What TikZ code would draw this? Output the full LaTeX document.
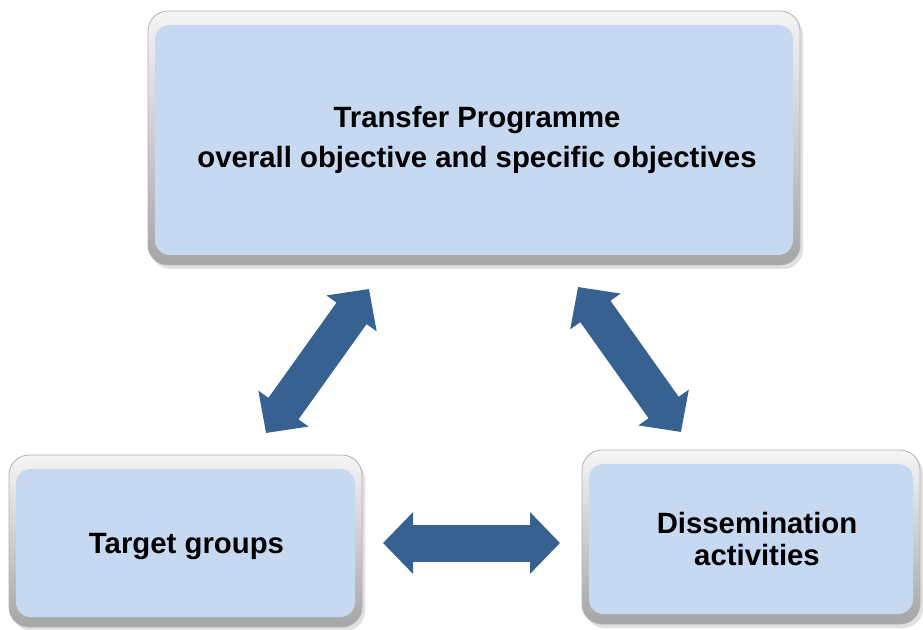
\documentclass[tikz,border=0pt]{standalone}
\usepackage{fontspec}
\setmainfont{Liberation Sans}
\usetikzlibrary{arrows.meta}
\definecolor{boxblue}{RGB}{198,217,241}
\definecolor{arrowblue}{RGB}{54,97,145}
\tikzset{
  px/.style={x=0.75pt,y=-0.75pt},
  boxshadow/.style={fill=black,opacity=0.12,rounded corners=15pt},
  boxouter/.style={top color=white!92!gray,bottom color=gray!70,draw=gray!60,line width=0.6pt,rounded corners=15pt},
  boxinner/.style={fill=boxblue,rounded corners=11pt},
  boxtext/.style={font=\bfseries\fontsize{22}{30}\selectfont,align=center,text=black},
  fatarrow/.style={draw=arrowblue,line width=27.75pt,
     arrows={Triangle[length=22.5pt 0 0,width=45pt 0 0,fill=arrowblue]-Triangle[length=22.5pt 0 0,width=45pt 0 0,fill=arrowblue]}}
}
% #1 name, #2 x1, #3 y1, #4 x2, #5 y2, #6 text x shift, #7 text y shift, #8 text
\newcommand\bevelbox[8]{%
  \fill[boxshadow] (#2+3,#3+4) rectangle (#4+3,#5+4);
  \path[boxouter] (#2,#3) rectangle (#4,#5);
  \fill[boxinner] (#2+7,#3+14) rectangle (#4-7,#5-10);
  \node[boxtext] (#1) at ({(#2+#4)/2+#6},{(#3+14+#5-10)/2+#7}) {#8};
}
\begin{document}
\begin{tikzpicture}[px]
\useasboundingbox (0,0) rectangle (923,630);
\bevelbox{top}{148}{11}{800}{265}{3}{0}{Transfer Programme\\ overall objective and specific objectives}
\bevelbox{tg}{9}{455}{362}{627}{1}{4}{Target groups}
\bevelbox{dis}{582}{450}{920}{624}{6}{0}{Dissemination\\[-6pt]activities}
% arrow end points
\coordinate (hl) at (383,543);
\coordinate (hr) at (560,543);
\coordinate (ll) at (266,433);
\coordinate (lu) at (369,289);
\coordinate (ru) at (578,287);
\coordinate (rl) at (681,432);
\draw[fatarrow] (hl) -- (hr);
\draw[fatarrow] (ll) -- (lu);
\draw[fatarrow] (ru) -- (rl);
\end{tikzpicture}
\end{document}
